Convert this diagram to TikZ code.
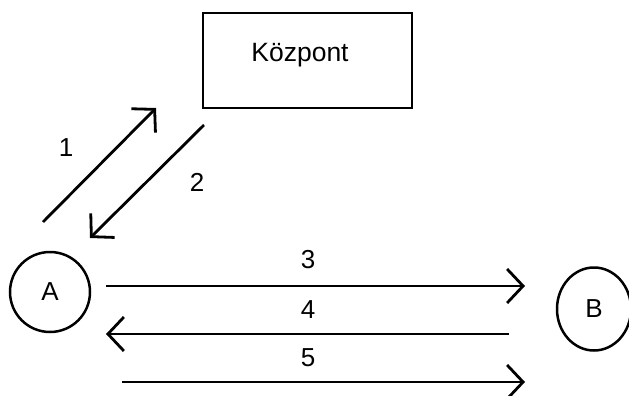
\documentclass[tikz,border=0pt]{standalone}
\usepackage{fontspec}
\setmainfont{Liberation Sans}
\usetikzlibrary{arrows.meta,shapes.geometric}
\begin{document}
\begin{tikzpicture}[x=1pt,y=-1pt,
  flow/.style={line width=2.8pt,
    -{Straight Barb[length=16pt,width=34pt,line width=2.8pt]}},
  station/.style={draw, line width=2.5pt, ellipse, inner sep=0pt,
    font=\fontsize{26}{30}\selectfont},
  hubbox/.style={draw, line width=2.8pt, rectangle, inner sep=0pt,
    minimum width=209pt, minimum height=95pt},
  tag/.style={inner sep=0pt, font=\fontsize{26}{30}\selectfont}]
  \useasboundingbox (0,0) rectangle (629,396);

  % central office and the two stations
  \node[hubbox] (hub) at (307.5,60.5) {};
  \node[inner sep=0pt, anchor=base, font=\fontsize{26.5}{30}\selectfont]
    (hubname) at (300,62) {Központ};
  \node[station, minimum width=80pt, minimum height=80pt] (A) at (50,292) {A};
  \node[station, minimum width=74pt, minimum height=83pt] (B) at (594,309) {B};

  % free ends of the connectors
  \coordinate (p1s) at (43,222);  \coordinate (p1e) at (156,108);
  \coordinate (p2s) at (204,125); \coordinate (p2e) at (90,238);
  \coordinate (p3s) at (106,286); \coordinate (p3e) at (525,286);
  \coordinate (p4s) at (509,334); \coordinate (p4e) at (106,334);
  \coordinate (p5s) at (122,382); \coordinate (p5e) at (525,382);

  \draw[flow] (p1s) -- (p1e);
  \draw[flow] (p2s) -- (p2e);
  \draw[flow] (p3s) -- (p3e);
  \draw[flow] (p4s) -- (p4e);
  \draw[flow] (p5s) -- (p5e);

  % step numbers
  \node[tag] (n1) at (66,148) {1};
  \node[tag] (n2) at (197,182) {2};
  \node[tag] (n3) at (308,260) {3};
  \node[tag] (n4) at (308,310) {4};
  \node[tag] (n5) at (308,358) {5};
\end{tikzpicture}
\end{document}
